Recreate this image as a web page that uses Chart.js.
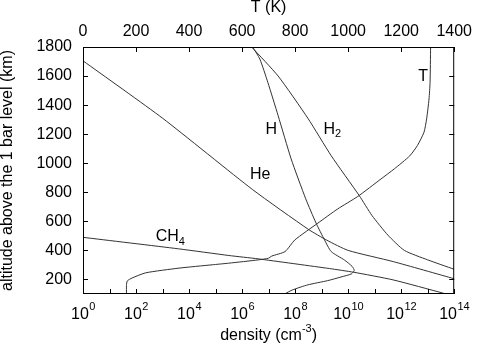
<!DOCTYPE html>
<html>
<head>
<meta charset="utf-8">
<script src="https://cdn.jsdelivr.net/npm/chart.js@4/dist/chart.umd.min.js"></script>
<style>
    html, body { margin: 0; padding: 0; background: #fff; }
</style>
</head>
<body>
<canvas id="chart" width="478" height="346"></canvas>
<script>
/* ==================== DATA ==================== */
// temperature profile (top axis, K) vs altitude (km)
const tempAlt = [100, 160, 190, 210, 246, 278, 301, 312, 335, 346, 361, 392, 472, 588, 686, 771, 892, 961, 1050, 1121, 1213, 1305, 1442, 1557, 1800];
const tempK   = [164, 164, 167, 185, 237, 362, 487, 549, 662, 699, 712, 762, 799, 886, 961, 1036, 1124, 1174, 1232, 1261, 1286, 1296, 1305, 1309, 1311];

// densities, stored as log10(n / cm^-3)
const hAlt   = [1800, 1717, 1557, 1327, 1030, 755, 588, 472, 392, 334, 290, 262, 238, 217, 192, 163, 128, 100];
const hLogN  = [6.40, 6.67, 6.97, 7.36, 7.85, 8.40, 8.79, 9.11, 9.36, 9.86, 10.15, 10.23, 10.12, 9.73, 9.23, 8.48, 7.90, 7.60];

const h2Alt  = [1800, 1600, 1310, 1052, 777, 640, 505, 400, 335, 270];
const h2LogN = [6.36, 7.36, 8.48, 9.36, 10.42, 10.90, 11.50, 12.12, 13.00, 14.00];

const heAlt  = [1705, 1310, 818, 545, 470, 400, 323, 205];
const heLogN = [0, 3.0, 6.4, 8.5, 9.2, 10.0, 11.7, 14.0];

const ch4Alt  = [490, 411, 365, 342, 275, 250, 197, 105];
const ch4LogN = [0, 3.6, 5.5, 6.6, 9.3, 10.2, 11.7, 13.6];

// axis ticks
const yTicks = [200, 400, 600, 800, 1000, 1200, 1400, 1600, 1800];
const tTicks = [0, 200, 400, 600, 800, 1000, 1200, 1400];
const xTickExps = [0, 1, 2, 3, 4, 5, 6, 7, 8, 9, 10, 11, 12, 13, 14];
const xLabelExps = [0, 2, 4, 6, 8, 10, 12, 14];

// curve labels (left edge at log10 n, centre at altitude)
const curveNames = ['T', 'H', 'H2', 'He', 'CH4'];
const curveLabelLogN = [12.64, 6.88, 9.07, 6.30, 2.74];
const curveLabelAlt = [1596, 1234, 1234, 919, 494];

/* ==================== HELPERS ==================== */
const FONT = '"Liberation Sans", Arial, Helvetica, sans-serif';
const LINE = '#333';

function toPoints(logs, alts) {
    return logs.map((v, i) => ({ x: Math.pow(10, v), y: alts[i] }));
}

function drawWithSub(ctx, text, x, y, size) {
    // trailing digits become a subscript
    const m = text.match(/^(.*?)(\d*)$/);
    ctx.font = size + 'px ' + FONT;
    ctx.fillText(m[1], x, y);
    if (m[2]) {
        const w = ctx.measureText(m[1]).width;
        ctx.font = Math.round(size * 0.7) + 'px ' + FONT;
        ctx.fillText(m[2], x + w, y + 5);
    }
}

/* ==================== FRAME / LABELS PLUGIN ==================== */
const framePlugin = {
    id: 'frame',
    afterDraw(chart) {
        const ctx = chart.ctx;
        const ca = chart.chartArea;
        const sx = chart.scales.x, sy = chart.scales.y, st = chart.scales.xT;
        const TL = 5;
        ctx.save();
        ctx.strokeStyle = '#000';
        ctx.lineWidth = 1;
        ctx.strokeRect(ca.left + 0.5, ca.top + 0.5, ca.right - ca.left - 1, ca.bottom - ca.top - 1);

        ctx.beginPath();
        yTicks.forEach((v) => {
            const py = Math.round(sy.getPixelForValue(v)) + 0.5;
            ctx.moveTo(ca.left, py); ctx.lineTo(ca.left + TL, py);
            ctx.moveTo(ca.right, py); ctx.lineTo(ca.right - TL, py);
        });
        xTickExps.forEach((e) => {
            const px = Math.round(sx.getPixelForValue(Math.pow(10, e))) + 0.5;
            ctx.moveTo(px, ca.bottom); ctx.lineTo(px, ca.bottom - TL);
        });
        tTicks.forEach((v) => {
            const px = Math.round(st.getPixelForValue(v)) + 0.5;
            ctx.moveTo(px, ca.top); ctx.lineTo(px, ca.top + TL);
        });
        ctx.stroke();

        // log axis labels 10^n
        ctx.fillStyle = '#000';
        ctx.textAlign = 'left';
        ctx.textBaseline = 'alphabetic';
        xLabelExps.forEach((e) => {
            const px = sx.getPixelForValue(Math.pow(10, e));
            ctx.font = '16px ' + FONT;
            const wb = ctx.measureText('10').width;
            ctx.font = '11px ' + FONT;
            const we = ctx.measureText(String(e)).width;
            const x0 = px - (wb + we) / 2;
            ctx.font = '16px ' + FONT;
            ctx.fillText('10', x0, ca.bottom + 25);
            ctx.font = '11px ' + FONT;
            ctx.fillText(String(e), x0 + wb + 0.5, ca.bottom + 16);
        });

        // bottom axis title with superscript
        const t1 = 'density (cm', t2 = '-3', t3 = ')';
        ctx.font = '16px ' + FONT;
        const w1 = ctx.measureText(t1).width, w3 = ctx.measureText(t3).width;
        ctx.font = '11px ' + FONT;
        const w2 = ctx.measureText(t2).width;
        const xs = (ca.left + ca.right) / 2 - (w1 + w2 + w3) / 2;
        const by = ca.bottom + 46;
        ctx.font = '16px ' + FONT;
        ctx.fillText(t1, xs, by);
        ctx.font = '11px ' + FONT;
        ctx.fillText(t2, xs + w1, by - 8);
        ctx.font = '16px ' + FONT;
        ctx.fillText(t3, xs + w1 + w2, by);

        // curve labels
        ctx.textBaseline = 'middle';
        curveNames.forEach((name, i) => {
            const px = sx.getPixelForValue(Math.pow(10, curveLabelLogN[i]));
            const py = sy.getPixelForValue(curveLabelAlt[i]);
            drawWithSub(ctx, name, px, py, 16);
        });
        ctx.restore();
    }
};

/* ==================== CHART ==================== */
const lineStyle = { borderColor: LINE, borderWidth: 1, pointRadius: 0, showLine: true, tension: 0.2, fill: false };
const plain = (v) => String(v);

new Chart(document.getElementById('chart'), {
    type: 'scatter',
    data: {
        datasets: [
            { label: 'T', data: tempK.map((t, i) => ({ x: t, y: tempAlt[i] })), xAxisID: 'xT', yAxisID: 'y', ...lineStyle },
            { label: 'H', data: toPoints(hLogN, hAlt), xAxisID: 'x', yAxisID: 'y', ...lineStyle },
            { label: 'H2', data: toPoints(h2LogN, h2Alt), xAxisID: 'x', yAxisID: 'y', ...lineStyle },
            { label: 'He', data: toPoints(heLogN, heAlt), xAxisID: 'x', yAxisID: 'y', ...lineStyle },
            { label: 'CH4', data: toPoints(ch4LogN, ch4Alt), xAxisID: 'x', yAxisID: 'y', ...lineStyle },
        ],
    },
    options: {
        responsive: false,
        animation: false,
        devicePixelRatio: 1,
        layout: { padding: 0 },
        plugins: { legend: { display: false }, tooltip: { enabled: false } },
        scales: {
            x: {
                type: 'logarithmic', position: 'bottom', min: 1, max: 1e14,
                afterBuildTicks: (s) => { s.ticks = xTickExps.map((e) => ({ value: Math.pow(10, e) })); },
                afterFit: (s) => { s.height = 52; },
                ticks: { display: false },
                grid: { display: false, drawTicks: false },
                border: { display: false },
            },
            xT: {
                type: 'linear', position: 'top', min: 0, max: 1400,
                afterBuildTicks: (s) => { s.ticks = tTicks.map((v) => ({ value: v })); },
                afterFit: (s) => { s.height = 47; },
                ticks: { color: '#000', font: { family: FONT, size: 16 }, padding: 6, maxRotation: 0, callback: plain },
                grid: { display: false, drawTicks: false },
                border: { display: false },
                title: { display: true, text: 'T (K)', color: '#000', font: { family: FONT, size: 16, lineHeight: 1 }, padding: 0 },
            },
            y: {
                type: 'linear', position: 'left', min: 100, max: 1800,
                afterBuildTicks: (s) => { s.ticks = yTicks.map((v) => ({ value: v })); },
                afterFit: (s) => { s.width = 83; },
                ticks: { color: '#000', font: { family: FONT, size: 16 }, padding: 11, callback: plain },
                grid: { display: false, drawTicks: false },
                border: { display: false },
                title: { display: true, text: 'altitude above the 1 bar level (km)', color: '#000', font: { family: FONT, size: 16, lineHeight: 1 }, padding: 0 },
            },
            y2: {
                type: 'linear', position: 'right', min: 100, max: 1800,
                afterBuildTicks: (s) => { s.ticks = yTicks.map((v) => ({ value: v })); },
                afterFit: (s) => { s.width = 21; },
                ticks: { display: false },
                grid: { display: false, drawTicks: false },
                border: { display: false },
            },
        },
    },
    plugins: [framePlugin],
});
</script>
</body>
</html>
